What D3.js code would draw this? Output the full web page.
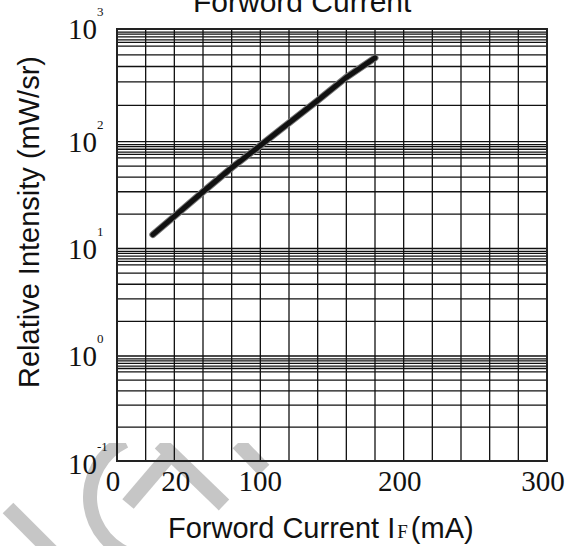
<!DOCTYPE html>
<html><head><meta charset="utf-8">
<script src="https://cdn.jsdelivr.net/npm/d3@7"></script>
<style>body{margin:0;background:#fff}</style>
</head><body>
<svg id="c" width="578" height="546"></svg>
<script>
// ---- data ----
const currentMA = [25, 40, 60, 80, 100, 115, 140, 160, 180];
const intensity = [13.5, 20, 34, 57, 92, 131, 232, 372, 555];
const xGridValues = [0, 20, 40, 60, 80, 100, 120, 140, 160, 180, 200, 220, 240, 260, 280, 300];
const xTickValues = [0, 40, 100, 200, 300];
const xTickLabels = ["0", "20", "100", "200", "300"];
const decades = [0.1, 1, 10, 100, 1000];
const decadeExponents = ["-1", "0", "1", "2", "3"];
const gridFactors = [2.1, 3.4, 4.65, 5.9, 7.05, 7.6, 8.0, 8.5, 9.0, 9.4];

// ---- scales ----
const svg = d3.select("#c");
const x = d3.scaleLinear().domain([0, 300]).range([117, 547]);
const y = d3.scaleLog().domain(decades).range([461, 356, 248.5, 141.7, 29]);

// ---- watermark ----
svg.append("clipPath").attr("id", "wm").append("rect")
  .attr("x", 0).attr("y", 443).attr("width", 578).attr("height", 110);
const wm = svg.append("g").attr("clip-path", "url(#wm)");
const wmColor = "#c6c6c6";
wm.append("path")
  .attr("transform", "translate(152,497)")
  .attr("d", d3.arc()({innerRadius: 55, outerRadius: 69, startAngle: -0.45, endAngle: -2.9}))
  .attr("fill", wmColor);
[[[128, 504], [174, 450]], [[160, 443], [224, 505]], [[238, 443], [264, 470]], [[8, 508], [60, 560]]]
  .forEach(s => wm.append("path").attr("d", d3.line()(s))
    .attr("stroke", wmColor).attr("stroke-width", 15).attr("fill", "none"));

// ---- grid ----
const grid = svg.append("g").attr("stroke", "#111").attr("stroke-width", 1.3);
const hVals = [];
decades.forEach((d, i) => {
  hVals.push(d);
  if (i < decades.length - 1) gridFactors.forEach(f => hVals.push(d * f));
});
grid.selectAll("line.h").data(hVals).join("line").attr("class", "h")
  .attr("x1", x(0)).attr("x2", x(300))
  .attr("y1", d => y(d)).attr("y2", d => y(d));
grid.selectAll("line.v").data(xGridValues).join("line").attr("class", "v")
  .attr("x1", d => x(d)).attr("x2", d => x(d))
  .attr("y1", y(0.1)).attr("y2", y(1000));
svg.append("rect")
  .attr("x", x(0)).attr("y", y(1000))
  .attr("width", x(300) - x(0)).attr("height", y(0.1) - y(1000))
  .attr("fill", "none").attr("stroke", "#222").attr("stroke-width", 2);

// ---- curve ----
const pts = currentMA.map((c, i) => [c, intensity[i]]);
const line = d3.line().x(d => x(d[0])).y(d => y(d[1]));
svg.append("path").attr("d", line(pts)).attr("fill", "none")
  .attr("stroke", "#777").attr("stroke-width", 7).attr("stroke-linecap", "round");
svg.append("path").attr("d", line(pts)).attr("fill", "none")
  .attr("stroke", "#111").attr("stroke-width", 5).attr("stroke-linecap", "round");

// ---- x tick labels ----
svg.selectAll("text.xt").data(xTickValues).join("text").attr("class", "xt")
  .attr("x", d => x(d)).attr("y", 491)
  .attr("dx", (d, i) => (i === 1 ? 1.5 : i === 2 ? 0 : -4))
  .attr("text-anchor", "middle")
  .style("font-family", "'Liberation Serif','Times New Roman',serif")
  .style("font-size", "29px").attr("fill", "#111")
  .text((d, i) => xTickLabels[i]);

// ---- y tick labels ----
const yl = svg.selectAll("g.yt").data(decades).join("g").attr("class", "yt")
  .attr("transform", (d, i) => `translate(97,${y(d) + (i === 0 ? 13 : 10)})`);
yl.append("text").attr("text-anchor", "end")
  .style("font-family", "'Liberation Serif','Times New Roman',serif")
  .style("font-size", "29px").attr("fill", "#111").text("10");
yl.append("text").attr("x", 0).attr("y", -23)
  .style("font-family", "'Liberation Serif','Times New Roman',serif")
  .style("font-size", "13px").attr("fill", "#111")
  .text((d, i) => decadeExponents[i]);

// ---- titles ----
svg.append("text").attr("x", 193).attr("y", 11.5)
  .style("font-family", "'Liberation Sans',Arial,sans-serif")
  .style("font-size", "30px").attr("fill", "#111").text("Forword Current");

const xl = svg.append("text").attr("x", 168).attr("y", 538)
  .style("font-family", "'Liberation Sans',Arial,sans-serif")
  .style("font-size", "29px").attr("fill", "#111");
xl.append("tspan").text("Forword Current I");
xl.append("tspan").attr("dx", 2)
  .style("font-family", "'Liberation Serif','Times New Roman',serif")
  .style("font-size", "19px").text("F");
xl.append("tspan").attr("dx", 3).text("(mA)");

svg.append("text")
  .attr("transform", "translate(39,222) rotate(-90)")
  .attr("text-anchor", "middle")
  .style("font-family", "'Liberation Sans',Arial,sans-serif")
  .style("font-size", "29px").attr("fill", "#111")
  .text("Relative Intensity (mW/sr)");
</script>
</body></html>
